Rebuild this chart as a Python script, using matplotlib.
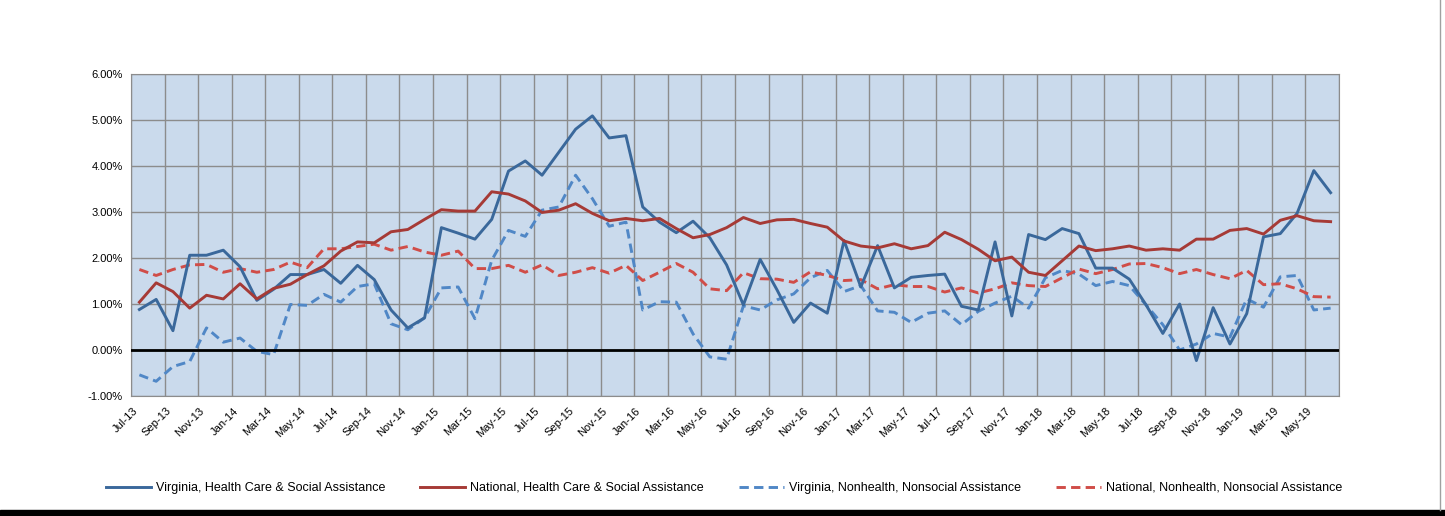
import matplotlib
matplotlib.use('Agg')
import matplotlib.pyplot as plt
import pandas as pd

months = pd.date_range('2013-07-01', periods=72, freq='MS').strftime('%b-%y').tolist()

va_health = [0.88, 1.10, 0.42, 2.06, 2.06, 2.17, 1.81, 1.08, 1.32, 1.64, 1.64, 1.75,
             1.45, 1.84, 1.53, 0.87, 0.48, 0.70, 2.66, 2.54, 2.41, 2.84, 3.89, 4.11,
             3.80, 4.30, 4.80, 5.09, 4.61, 4.66, 3.11, 2.78, 2.55, 2.80, 2.44, 1.85,
             0.98, 1.97, 1.31, 0.60, 1.02, 0.80, 2.38, 1.37, 2.27, 1.35, 1.58, 1.62,
             1.65, 0.95, 0.87, 2.35, 0.74, 2.51, 2.40, 2.64, 2.53, 1.78, 1.78, 1.54,
             0.98, 0.36, 1.00, -0.23, 0.92, 0.13, 0.79, 2.46, 2.53, 2.97, 3.90, 3.42]

nat_health = [1.04, 1.46, 1.27, 0.91, 1.19, 1.11, 1.44, 1.11, 1.34, 1.43, 1.64, 1.83,
              2.15, 2.35, 2.33, 2.57, 2.62, 2.84, 3.05, 3.02, 3.02, 3.44, 3.39, 3.24,
              2.99, 3.04, 3.18, 2.97, 2.81, 2.86, 2.81, 2.86, 2.64, 2.44, 2.51, 2.66,
              2.88, 2.75, 2.83, 2.84, 2.75, 2.67, 2.37, 2.26, 2.22, 2.31, 2.20, 2.27,
              2.56, 2.40, 2.19, 1.94, 2.02, 1.69, 1.62, 1.94, 2.26, 2.16, 2.20, 2.26,
              2.17, 2.20, 2.17, 2.41, 2.41, 2.60, 2.64, 2.52, 2.82, 2.92, 2.81, 2.79]

va_nonhealth = [-0.54, -0.68, -0.36, -0.25, 0.48, 0.17, 0.26, -0.03, -0.10, 0.99, 0.97, 1.21,
                1.04, 1.38, 1.44, 0.57, 0.44, 0.70, 1.35, 1.37, 0.68, 1.95, 2.60, 2.47,
                3.04, 3.11, 3.80, 3.29, 2.69, 2.78, 0.87, 1.05, 1.04, 0.35, -0.15, -0.20,
                0.96, 0.87, 1.09, 1.22, 1.57, 1.73, 1.27, 1.40, 0.85, 0.82, 0.60, 0.80,
                0.85, 0.55, 0.84, 1.02, 1.17, 0.91, 1.57, 1.73, 1.65, 1.40, 1.49, 1.40,
                0.98, 0.55, 0.00, 0.13, 0.36, 0.28, 1.11, 0.93, 1.59, 1.62, 0.87, 0.91]

nat_nonhealth = [1.75, 1.62, 1.75, 1.85, 1.86, 1.69, 1.77, 1.69, 1.75, 1.91, 1.79, 2.20,
                 2.20, 2.25, 2.30, 2.17, 2.25, 2.13, 2.06, 2.15, 1.77, 1.77, 1.84, 1.69,
                 1.85, 1.62, 1.69, 1.79, 1.67, 1.84, 1.51, 1.69, 1.88, 1.69, 1.33, 1.29,
                 1.68, 1.55, 1.54, 1.47, 1.70, 1.62, 1.51, 1.53, 1.33, 1.42, 1.38, 1.38,
                 1.26, 1.35, 1.24, 1.33, 1.46, 1.40, 1.38, 1.57, 1.76, 1.66, 1.75, 1.87,
                 1.88, 1.79, 1.66, 1.75, 1.64, 1.55, 1.73, 1.42, 1.44, 1.33, 1.16, 1.15]

plt.rcParams['font.family'] = ['Liberation Sans', 'DejaVu Sans']

fig = plt.figure(figsize=(14.45, 5.16), dpi=100)
ax = fig.add_axes([131/1445, 1-396/516, (1339-131)/1445, (396-74)/516])
ax.set_facecolor('#CADAEC')

x = list(range(len(months)))
dash = (0, (3.2, 1.8))
ax.plot(x, va_health, color='#3A689B', lw=2.1, label='Virginia, Health Care & Social Assistance', zorder=4)
ax.plot(x, nat_health, color='#A63A36', lw=2.1, label='National, Health Care & Social Assistance', zorder=4)
ax.plot(x, va_nonhealth, color='#5087C6', lw=2.1, ls=dash, label='Virginia, Nonhealth, Nonsocial Assistance', zorder=3)
ax.plot(x, nat_nonhealth, color='#D04D48', lw=2.1, ls=dash, label='National, Nonhealth, Nonsocial Assistance', zorder=3)

ax.axhline(0, color='black', lw=2, zorder=5)

ax.set_xlim(-0.5, len(months) - 0.5)
ax.set_ylim(-1, 6)
ax.set_yticks(range(-1, 7))
ax.set_yticklabels(['%.2f%%' % v for v in range(-1, 7)], fontsize=8)
ax.set_xticks(x[::2])
ax.set_xticklabels(months[::2], rotation=45, ha='right', fontsize=8)
ax.set_xticks([i - 0.5 for i in range(0, len(months) + 1, 2)], minor=True)
ax.tick_params(axis='x', which='both', length=0, pad=7)
ax.tick_params(axis='y', length=0, pad=6)
ax.grid(False)
ax.grid(True, which='minor', axis='x', color='#8C8C8C', lw=1)
ax.grid(True, which='major', axis='y', color='#8C8C8C', lw=1)
ax.set_axisbelow(True)
for s in ax.spines.values():
    s.set_color('#8C8C8C')

fig.legend(loc='center', bbox_to_anchor=(724/1445, 1-488/516), ncol=4, frameon=False,
           fontsize=9, handlelength=3.6, columnspacing=2.8, handletextpad=0.4)

# outer frame of the screenshot
fig.patches.append(plt.Rectangle((0, 0), 1, 6/516, transform=fig.transFigure, color='black'))
fig.add_artist(plt.Line2D([1440/1445, 1440/1445], [6/516, 1], transform=fig.transFigure, color='#A0A0A0', lw=1))

plt.savefig('out.png', dpi=100)
